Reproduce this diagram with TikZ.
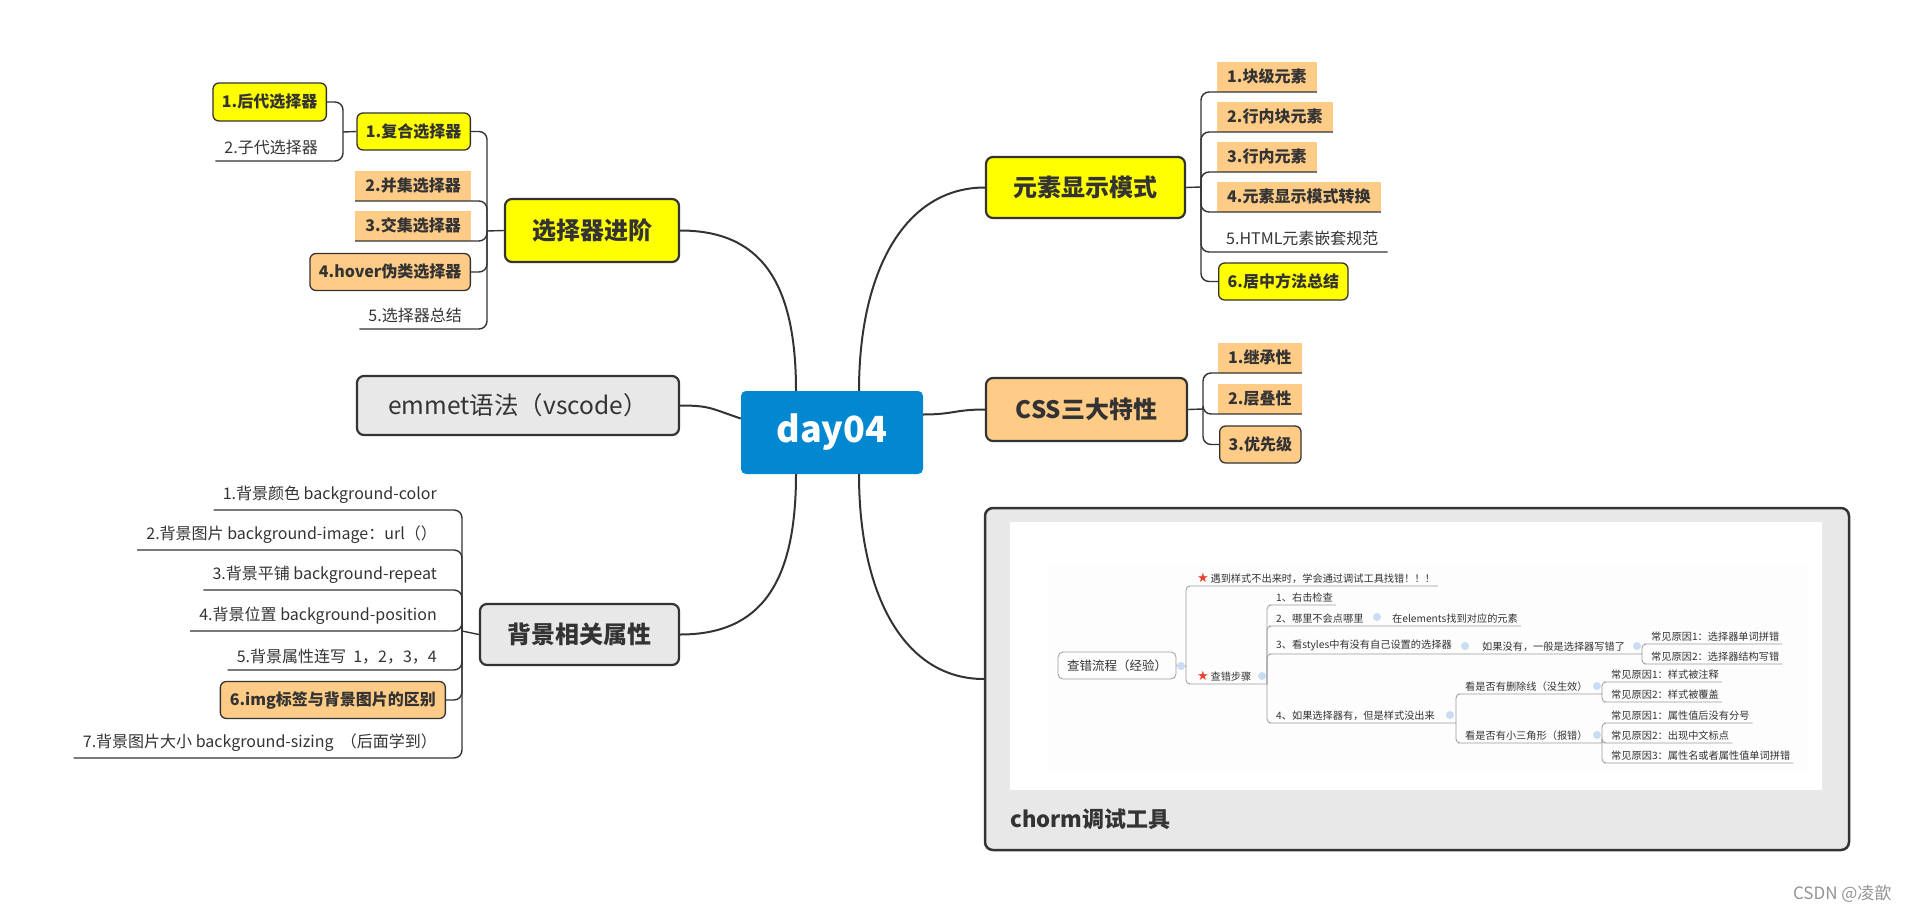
\documentclass[tikz,border=0pt]{standalone}
\usepackage{fontspec}
\setmainfont{Noto Sans CJK SC}
\newfontfamily\symf{DejaVu Sans}
\usetikzlibrary{positioning}

\definecolor{ink}{HTML}{333333}
\definecolor{hiyel}{HTML}{FFFF00}
\definecolor{hiorg}{HTML}{FFCC88}
\definecolor{boxgray}{HTML}{E8E8E8}
\definecolor{dayblue}{HTML}{0288D1}
\definecolor{linegray}{HTML}{9A9A9A}
\definecolor{dotblue}{HTML}{C9DCF3}
\definecolor{starred}{HTML}{E8412C}

\begin{document}
\begin{tikzpicture}[x=1pt, y=-1pt,
  topic/.style={draw=ink, line width=2.2pt, rounded corners=7pt, text=ink, font=\fontsize{24pt}{28pt}\selectfont\bfseries},
  subbox/.style={draw=ink, line width=1.3pt, rounded corners=6pt, text=ink, inner xsep=9pt, minimum height=37pt, font=\fontsize{16pt}{19pt}\selectfont\bfseries},
  tag/.style={fill=hiorg, text=ink, inner xsep=10pt, minimum height=30pt, font=\fontsize{16pt}{19pt}\selectfont\bfseries},
  leaf/.style={text=ink, inner xsep=9pt, inner ysep=6pt, font=\fontsize{16pt}{19pt}\selectfont},
  main/.style={draw=ink, line width=2pt},
  link/.style={draw=ink, line width=1.4pt, rounded corners=8pt},
  mini/.style={text=ink, inner xsep=3pt, inner ysep=2.5pt, font=\fontsize{10.2pt}{12pt}\selectfont},
  twig/.style={draw=linegray, line width=0.8pt, rounded corners=4pt},
  fold/.style={circle, fill=dotblue, inner sep=0pt, minimum size=8pt}]
  \useasboundingbox (0,0) rectangle (1911,913);
  \def\star{{\symf\fontsize{13pt}{13pt}\selectfont\textcolor{starred}{★}}}

  % centre
  \node[fill=dayblue, rounded corners=5pt, text=white, font=\fontsize{36pt}{40pt}\selectfont\bfseries,
        minimum width=182pt, minimum height=83pt] (day) at (832,432.5) {day04};

  % selectors
  \node[topic, fill=hiyel, minimum width=174pt, minimum height=63pt] (sel) at (592,230.5) {选择器进阶};
  \coordinate (bsel) at (487,231);
  \node[subbox, fill=hiyel, anchor=east, minimum width=110pt] (fuhe) at (471,131.5) {1.复合选择器};
  \coordinate (bfuhe) at (343,132);
  \node[subbox, fill=hiyel, anchor=east, minimum width=110pt, minimum height=38pt] (houdai) at (327,102) {1.后代选择器};
  \node[leaf, anchor=south east] (zidai) at (327,161) {2.子代选择器};
  \node[tag, anchor=south east] (bingji) at (471,201) {2.并集选择器};
  \node[tag, anchor=south east] (jiaoji) at (471,241) {3.交集选择器};
  \node[subbox, fill=hiorg, anchor=east, minimum width=160pt] (hover) at (471,272) {4.hover伪类选择器};
  \node[leaf, anchor=south east] (zongjie) at (471,329) {5.选择器总结};

  \draw[link] (sel.west) -- (bsel);
  \draw[link] (bsel) |- (fuhe.east);
  \draw[link] (bsel) |- (bingji.south east) -- (bingji.south west);
  \draw[link] (bsel) |- (jiaoji.south east) -- (jiaoji.south west);
  \draw[link] (bsel) |- (hover.east);
  \draw[link] (bsel) |- (zongjie.south east) -- (zongjie.south west);
  \draw[link] (fuhe.west) -- (bfuhe);
  \draw[link] (bfuhe) |- (houdai.east);
  \draw[link] (bfuhe) |- (zidai.south east) -- (zidai.south west);

  % emmet
  \node[topic, fill=boxgray, font=\fontsize{24.5pt}{28pt}\selectfont, minimum width=322pt, minimum height=59pt] (emmet) at (518,405.5) {emmet语法（vscode）};

  % background
  \node[topic, fill=boxgray, minimum width=199pt, minimum height=61pt] (bg) at (579.5,634.5) {背景相关属性};
  \coordinate (bbg) at (462,631);
  \node[leaf, anchor=south east] (bg1) at (446,510) {1.背景颜色 background-color};
  \node[leaf, anchor=south east] (bg2) at (446,550) {2.背景图片 background-image：url（）};
  \node[leaf, anchor=south east] (bg3) at (446,590) {3.背景平铺 background-repeat};
  \node[leaf, anchor=south east] (bg4) at (446,631) {4.背景位置 background-position};
  \node[leaf, anchor=south east] (bg5) at (446,670) {5.背景属性连写~~1，2，3，4};
  \node[subbox, fill=hiorg, anchor=east, minimum width=225pt] (bg6) at (446,700) {6.img标签与背景图片的区别};
  \node[leaf, anchor=south east] (bg7) at (446,758) {7.背景图片大小 background-sizing~~（后面学到）};

  \draw[link] (bg.west) -- (bbg);
  \foreach \n in {bg1,bg2,bg3,bg4,bg5,bg7}
    \draw[link] (bbg) |- (\n.south east) -- (\n.south west);
  \draw[link] (bbg) |- (bg6.east);

  % display mode
  \node[topic, fill=hiyel, minimum width=199pt, minimum height=61pt] (mode) at (1085.5,187.5) {元素显示模式};
  \coordinate (bmode) at (1201,187);
  \node[tag, anchor=south west] (m1) at (1217,92) {1.块级元素};
  \node[tag, anchor=south west] (m2) at (1217,132) {2.行内块元素};
  \node[tag, anchor=south west] (m3) at (1217,172) {3.行内元素};
  \node[tag, anchor=south west] (m4) at (1217,212) {4.元素显示模式转换};
  \node[leaf, anchor=south west] (m5) at (1217,252) {5.HTML元素嵌套规范};
  \node[subbox, fill=hiyel, anchor=west] (m6) at (1218,281.5) {6.居中方法总结};

  \draw[link] (mode.east) -- (bmode);
  \foreach \n in {m1,m2,m3,m4,m5}
    \draw[link] (bmode) |- (\n.south west) -- (\n.south east);
  \draw[link] (bmode) |- (m6.west);

  % css
  \node[topic, fill=hiorg, minimum width=201pt, minimum height=63pt] (css) at (1086.5,409.5) {CSS三大特性};
  \coordinate (bcss) at (1203,409);
  \node[tag, anchor=south west] (c1) at (1218,373) {1.继承性};
  \node[tag, anchor=south west] (c2) at (1218,414) {2.层叠性};
  \node[subbox, fill=hiorg, anchor=west] (c3) at (1219,444.5) {3.优先级};

  \draw[link] (css.east) -- (bcss);
  \draw[link] (bcss) |- (c1.south west) -- (c1.south east);
  \draw[link] (bcss) |- (c2.south west) -- (c2.south east);
  \draw[link] (bcss) |- (c3.west);

  % chrome tool box
  \node[draw=ink, line width=2.5pt, fill=boxgray, rounded corners=8pt,
        minimum width=864pt, minimum height=342pt] (tool) at (1417,679) {};
  \fill[white] (1010,522) rectangle (1822,790);
  \fill[black!0.8] (1048,565) rectangle (1808,772);
  \node[anchor=west, inner sep=0pt, text=ink, font=\fontsize{22pt}{26pt}\selectfont\bfseries] (tooltitle) at (1010,819) {chorm调试工具};

  % screenshot inside
  \node[draw=linegray, line width=0.8pt, rounded corners=5pt, text=ink, font=\fontsize{12.5pt}{15pt}\selectfont,
        minimum width=118pt, minimum height=27pt] (flow) at (1117,665.5) {查错流程（经验）};
  \coordinate (bflow) at (1186,666);
  \node[mini, anchor=south west] (tip) at (1194,586) {\star\,遇到样式不出来时，学会通过调试工具找错！！！};
  \node[mini, anchor=south west] (step) at (1194,684) {\star\,查错步骤};
  \coordinate (bstep) at (1267,684);
  \node[mini, anchor=south west] (s1) at (1273,605) {1、右击检查};
  \node[mini, anchor=south west] (s2) at (1273,626) {2、哪里不会点哪里};
  \node[mini, anchor=south west] (s2a) at (1389,626) {在elements找到对应的元素};
  \node[mini, anchor=south west] (s3) at (1273,654) {3、看styles中有没有自己设置的选择器};
  \node[mini, anchor=south west] (s3a) at (1479,654) {如果没有，一般是选择器写错了};
  \coordinate (b3) at (1642,654);
  \node[mini, anchor=south west] (r31) at (1648,644) {常见原因1：选择器单词拼错};
  \node[mini, anchor=south west] (r32) at (1648,664) {常见原因2：选择器结构写错};
  \node[mini, anchor=south west] (s4) at (1273,723) {4、如果选择器有，但是样式没出来};
  \coordinate (b4) at (1456,723);
  \node[mini, anchor=south west] (s4a) at (1462,694) {看是否有删除线（没生效）};
  \coordinate (b4a) at (1602,694);
  \node[mini, anchor=south west] (s4b) at (1462,743) {看是否有小三角形（报错）};
  \coordinate (b4b) at (1602,743);
  \node[mini, anchor=south west] (r41) at (1608,682) {常见原因1：样式被注释};
  \node[mini, anchor=south west] (r42) at (1608,702) {常见原因2：样式被覆盖};
  \node[mini, anchor=south west] (r43) at (1608,723) {常见原因1：属性值后没有分号};
  \node[mini, anchor=south west] (r44) at (1608,743) {常见原因2：出现中文标点};
  \node[mini, anchor=south west] (r45) at (1608,763) {常见原因3：属性名或者属性值单词拼错};

  \draw[twig] (flow.east) -- (bflow);
  \draw[twig] (bflow) |- (tip.south west) -- (tip.south east);
  \draw[twig] (bflow) |- (step.south west) -- (bstep);
  \draw[twig] (bstep) |- (s1.south west) -- (s1.south east);
  \draw[twig] (bstep) |- (s2.south west) -- (s2a.south east);
  \draw[twig] (bstep) |- (s3.south west) -- (b3);
  \draw[twig] (bstep) |- (s4.south west) -- (b4);
  \draw[twig] (b3) |- (r31.south west) -- (r31.south east);
  \draw[twig] (b3) |- (r32.south west) -- (r32.south east);
  \draw[twig] (b4) |- (s4a.south west) -- (b4a);
  \draw[twig] (b4) |- (s4b.south west) -- (b4b);
  \foreach \n in {r41,r42} \draw[twig] (b4a) |- (\n.south west) -- (\n.south east);
  \foreach \n in {r43,r44,r45} \draw[twig] (b4b) |- (\n.south west) -- (\n.south east);
  % fold dots
  \foreach \p/\nm in {(1181,666)/f0,(1262,676)/f1,(1377,617)/f2,(1465,646)/f3,(1637,646)/f3a,(1450,715)/f4,(1597,686)/f4a,(1597,735)/f4b}
    \node[fold] (\nm) at \p {};

  % main branches
  \draw[main] ([xshift=-36pt]day.north) .. controls +(0,-110) and +(80,0) .. (sel.east);
  \draw[main] ([yshift=14pt]day.west) .. controls +(-30,-10) and +(30,0) .. (emmet.east);
  \draw[main] ([xshift=-36pt]day.south) .. controls +(0,110) and +(80,0) .. (bg.east);
  \draw[main] ([xshift=27pt]day.north) .. controls +(0,-120) and +(-80,0) .. (mode.west);
  \draw[main] ([yshift=18pt]day.east) .. controls +(30,0) and +(-30,0) .. (css.west);
  \draw[main] ([xshift=27pt]day.south) .. controls +(0,120) and +(-80,0) .. (tool.west);

  \node[anchor=east, text=black!42, font=\fontsize{17pt}{20pt}\selectfont] (mark) at (1895,894) {CSDN @凌歆};
\end{tikzpicture}
\end{document}
